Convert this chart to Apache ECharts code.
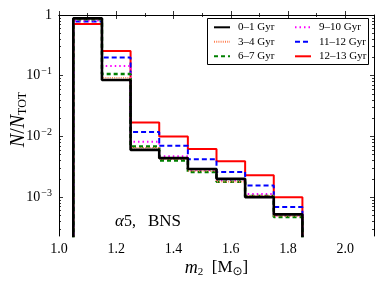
<!DOCTYPE html>
<html><head><meta charset="utf-8">
<script src="https://cdn.jsdelivr.net/npm/echarts@6/dist/echarts.min.js"></script>
<style>html,body{margin:0;padding:0;background:#fff}#c{width:382px;height:288px}</style>
</head><body><div id="c"></div>
<script>
// ---- data ----
const binEdges = [1.05, 1.15, 1.25, 1.35, 1.45, 1.55, 1.65, 1.75, 1.85];
const seriesNames = ['0–1 Gyr', '3–4 Gyr', '6–7 Gyr', '9–10 Gyr', '11–12 Gyr', '12–13 Gyr'];
const age0_1   = [0.88, 0.085, 0.0060, 0.0044, 0.0029, 0.0020, 0.00100, 0.00052];
const age3_4   = [0.86, 0.093, 0.0065, 0.0042, 0.0027, 0.0018, 0.00105, 0.00049];
const age6_7   = [0.85, 0.107, 0.0068, 0.0040, 0.0026, 0.0018, 0.00104, 0.00047];
const age9_10  = [0.81, 0.145, 0.0082, 0.0047, 0.0028, 0.0019, 0.00113, 0.00050];
const age11_12 = [0.78, 0.200, 0.0118, 0.0070, 0.0042, 0.0026, 0.00155, 0.00069];
const age12_13 = [0.71, 0.256, 0.0170, 0.0100, 0.0062, 0.0039, 0.00230, 0.00100];
const xTickLabels = [1.0, 1.2, 1.4, 1.6, 1.8, 2.0];
const xMinorTicks = [1.1, 1.3, 1.5, 1.7, 1.9];
const yTickExponents = [-3, -2, -1, 0];

// ---- build ----
const SERIF = 'Liberation Serif';
const Y_MIN = -3.64, Y_MAX = 0;
function histPath(vals) {
  const pts = [[binEdges[0], -6]];
  vals.forEach((v, i) => {
    const ly = Math.log10(v);
    pts.push([binEdges[i], ly]);
    pts.push([binEdges[i + 1], ly]);
  });
  pts.push([binEdges[binEdges.length - 1], -6]);
  return pts;
}
const yMinor = [];
for (let d = -4; d < 0; d++) for (let k = 2; k <= 9; k++) {
  const l = Math.log10(k) + d;
  if (l > Y_MIN && l < Y_MAX) yMinor.push(l);
}
const styles = {
  '0–1 Gyr':   {color: '#000000', width: 2.6, type: 'solid'},
  '3–4 Gyr':   {color: '#ff7f50', width: 1.5, type: [1, 1.2]},
  '6–7 Gyr':   {color: '#008000', width: 2.5, type: [4, 3]},
  '9–10 Gyr':  {color: '#ff00ff', width: 2,   type: [1.5, 3]},
  '11–12 Gyr': {color: '#0000ff', width: 2,   type: [5, 3]},
  '12–13 Gyr': {color: '#ff0000', width: 2,   type: 'solid'}
};
const dataMap = {
  '0–1 Gyr': age0_1, '3–4 Gyr': age3_4, '6–7 Gyr': age6_7,
  '9–10 Gyr': age9_10, '11–12 Gyr': age11_12, '12–13 Gyr': age12_13
};
const drawOrder = seriesNames.slice().reverse();
const series = drawOrder.map((n, i) => ({
  name: n, type: 'line', xAxisIndex: 0, yAxisIndex: 0,
  data: histPath(dataMap[n]), symbol: 'none', showSymbol: false,
  clip: true, animation: false, z: 2 + i * 0.01,
  lineStyle: {color: styles[n].color, width: styles[n].width, type: styles[n].type},
  itemStyle: {color: styles[n].color}
}));

const axLine = {show: true, lineStyle: {color: '#000', width: 1}};
function xAx(pos, major, showLabel) {
  return {
    type: 'value', min: 1.0, max: 2.1, position: pos,
    axisLine: major ? axLine : {show: false},
    splitLine: {show: false},
    axisTick: {show: true, inside: true, length: major ? 4 : 2,
      customValues: major ? xTickLabels : xMinorTicks, lineStyle: {color: '#000', width: 0.8}},
    axisLabel: showLabel ? {show: true, customValues: xTickLabels, margin: 6,
      formatter: v => v.toFixed(1), color: '#000', fontFamily: SERIF, fontSize: 14} : {show: false}
  };
}
function yAx(pos, major, showLabel) {
  return {
    type: 'value', min: Y_MIN, max: Y_MAX, position: pos,
    axisLine: major ? axLine : {show: false},
    splitLine: {show: false},
    axisTick: {show: true, inside: true, length: major ? 4 : 2,
      customValues: major ? yTickExponents : yMinor, lineStyle: {color: '#000', width: 0.8}},
    axisLabel: showLabel ? {show: true, customValues: yTickExponents, margin: 7,
      formatter: v => v === 0 ? '1' : '10{sup|−' + (-v) + '}',
      color: '#000', fontFamily: SERIF, fontSize: 14,
      rich: {sup: {fontSize: 10, fontFamily: SERIF, color: '#000', padding: [0, 0, 8, 1]}}} : {show: false}
  };
}
const xAxes = [xAx('bottom', true, true), xAx('bottom', false, false), xAx('top', true, false), xAx('top', false, false)];
const yAxes = [yAx('left', true, true), yAx('left', false, false), yAx('right', true, false), yAx('right', false, false)];
xAxes[0].name = '{i|m}{sub|2}  [M{sub2|⊙}]';
xAxes[0].nameLocation = 'middle';
xAxes[0].nameGap = 22;
xAxes[0].nameMoveOverlap = false;
xAxes[0].nameTextStyle = {color: '#000', fontFamily: SERIF, fontSize: 17,
  rich: {i: {fontStyle: 'italic', fontSize: 18, fontFamily: SERIF, color: '#000'},
         sub: {fontSize: 11, fontFamily: SERIF, color: '#000', padding: [8, 0, 0, 0]},
         sub2: {fontSize: 12, fontFamily: 'DejaVu Sans', color: '#000', padding: [8, 0, 0, 0]}}};
yAxes[0].name = '{i|N}{n|/}{i|N}{sub|TOT}';
yAxes[0].nameLocation = 'middle';
yAxes[0].nameGap = 30;
yAxes[0].nameMoveOverlap = false;
yAxes[0].nameTextStyle = {color: '#000', fontFamily: SERIF, fontSize: 20, padding: [0, 0, 0, 12],
  rich: {i: {fontStyle: 'italic', fontSize: 20, fontFamily: SERIF, color: '#000'},
         n: {fontSize: 20, fontFamily: SERIF, color: '#000'},
         sub: {fontSize: 12, fontFamily: SERIF, color: '#000', padding: [9, 0, 0, 0]}}};

const legText = {fontFamily: SERIF, fontSize: 11, color: '#000', padding: [0, 0, 0, 3], lineHeight: 12};
const legBase = {orient: 'vertical', top: 21.3, itemWidth: 16, itemHeight: 12, itemGap: 2.5,
  selectedMode: false, textStyle: legText, padding: 0,
  itemStyle: {color: 'rgba(0,0,0,0)', borderColor: 'rgba(0,0,0,0)', borderWidth: 0, opacity: 0}};

const chart = echarts.init(document.getElementById('c'), null, {renderer: 'canvas'});
chart.setOption({
  backgroundColor: '#fff',
  animation: false,
  grid: {left: 59, right: 8, top: 15, bottom: 52, containLabel: false, outerBoundsMode: 'none'},
  xAxis: xAxes,
  yAxis: yAxes,
  legend: [
    Object.assign({}, legBase, {left: 213, data: seriesNames.slice(0, 3)}),
    Object.assign({}, legBase, {left: 294, data: seriesNames.slice(3, 6)})
  ],
  graphic: [
    {type: 'rect', z: 3, shape: {x: 207.5, y: 18.5, width: 161, height: 46},
     style: {fill: '#fff', stroke: '#000', lineWidth: 1}},
    {type: 'text', z: 5, x: 115, y: 222,
     style: {text: '{i|α}5,   {b|BNS}', fill: '#000', font: '16px ' + SERIF, verticalAlign: 'middle',
       rich: {i: {fontStyle: 'italic', fontSize: 17, fontFamily: SERIF, fill: '#000'},
              b: {fontSize: 17, fontFamily: SERIF, fill: '#000'}}}}
  ],
  series: series
});
</script></body></html>
